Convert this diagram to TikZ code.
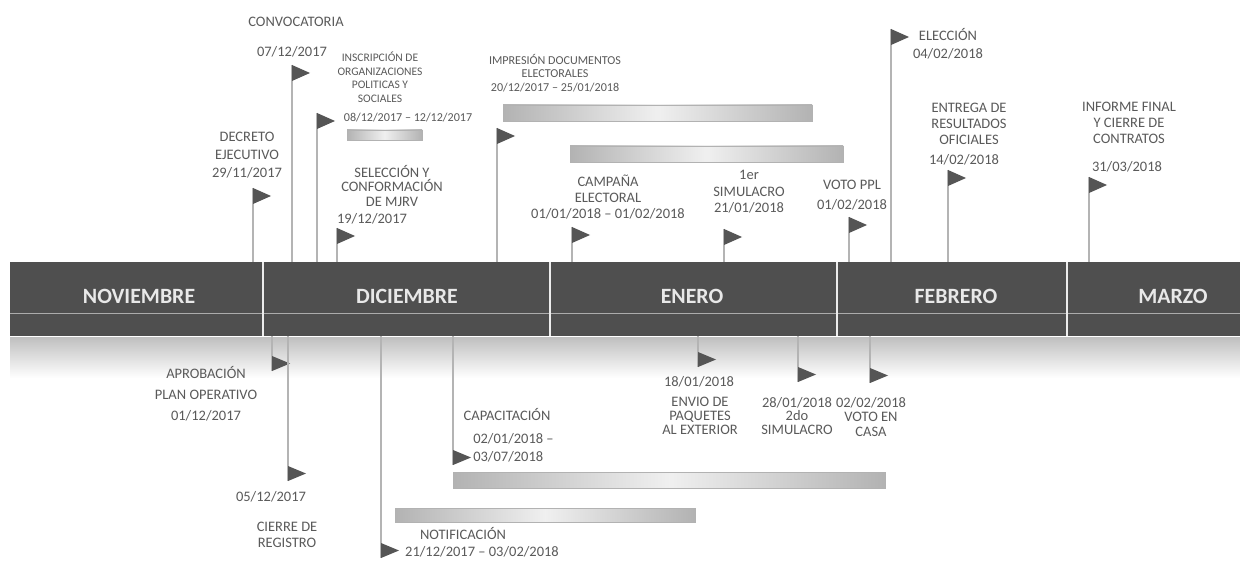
\documentclass[tikz,border=0pt]{standalone}
\usepackage{fontspec}
\setmainfont{Carlito}
\definecolor{txt}{HTML}{5A5A5A}
\definecolor{bandc}{HTML}{4F4F4F}
\definecolor{polec}{HTML}{B4B4B4}
\definecolor{flagc}{HTML}{555555}
\definecolor{monc}{HTML}{E8E8E8}
\tikzset{
  lbl/.style={text=txt, font=\fontsize{10.3}{12.8}\selectfont, align=center, inner sep=0pt},
  sml/.style={text=txt, font=\fontsize{8.2}{9.6}\selectfont, align=center, inner sep=0pt},
  mon/.style={text=monc, font=\fontsize{15.5}{17}\selectfont\bfseries, inner sep=0pt},
  pole/.style={draw=polec, line width=2pt},
  flagfill/.style={fill=flagc},
  bar/.style={draw=gray!60, line width=0.6pt, left color=gray!60, right color=gray!60, middle color=gray!12},
  sep/.style={draw=white!85!gray, line width=1pt}
}
\newcommand\flagup[3]{%
  \coordinate (#1top) at (#2,#3);
  \coordinate (#1base) at (#2,262);
  \draw[pole] (#1top) -- (#1base);
  \fill[flagfill] (#1top) -- ++(18,8) -- ++(-18,8) -- cycle;}
\newcommand\flagdn[3]{%
  \coordinate (#1base) at (#2,336);
  \coordinate (#1top) at (#2,#3);
  \coordinate (#1end) at (#2,#3+15);
  \draw[pole] (#1base) -- (#1end);
  \fill[flagfill] (#1top) -- ++(18,7.5) -- ++(-18,7.5) -- cycle;}
\begin{document}
\begin{tikzpicture}[x=0.025cm,y=-0.025cm]
\useasboundingbox (0,0) rectangle (1240,563);
\fill[white] (0,0) rectangle (1240,563);

% reflection strip below band
\shade[top color=gray!50, bottom color=white] (10,337) rectangle (1240,378);

% main band
\fill[bandc] (10,262) rectangle (1240,336);
\draw[gray!65, line width=0.6pt] (10,313) -- (1240,313);
\coordinate (s1t) at (263,262); \coordinate (s1b) at (263,336);
\coordinate (s2t) at (550,262); \coordinate (s2b) at (550,336);
\coordinate (s3t) at (837,262); \coordinate (s3b) at (837,336);
\coordinate (s4t) at (1067,262); \coordinate (s4b) at (1067,336);
\draw[sep] (s1t) -- (s1b);
\draw[sep] (s2t) -- (s2b);
\draw[sep] (s3t) -- (s3b);
\draw[sep] (s4t) -- (s4b);

\node[mon] (nov) at (139,296) {NOVIEMBRE};
\node[mon] (dic) at (407,296) {DICIEMBRE};
\node[mon] (ene) at (692,296) {ENERO};
\node[mon] (feb) at (956,296) {FEBRERO};
\node[mon] (mar) at (1173,296) {MARZO};

% bars
\draw[bar] (347,130) rectangle (422,140);
\draw[bar] (503,105) rectangle (812,121);
\draw[bar] (570,146) rectangle (843,162);
\draw[bar] (453,472) rectangle (885,488);
\draw[bar] (395,508) rectangle (695,522);

% flags above
\flagup{dec}{253}{188}
\flagup{conv}{292}{65}
\flagup{insc}{317}{113}
\flagup{sel}{337}{228}
\flagup{imp}{497}{128}
\flagup{camp}{572}{227}
\flagup{sim}{724}{229}
\flagup{ppl}{849}{217}
\flagup{elec}{891}{29}
\flagup{ent}{948}{170}
\flagup{inf}{1089}{177}

% flags below
\flagdn{apr}{272}{356}
\flagdn{cie}{288}{466}
\flagdn{not}{381}{543}
\flagdn{cap}{453}{450}
\flagdn{env}{698}{352}
\flagdn{sim2}{798}{367}
\flagdn{casa}{870}{368}

% texts above
\node[lbl] (tdec) at (247,155) {DECRETO\\EJECUTIVO\\29/11/2017};
\node[lbl] (tconv) at (296,22) {CONVOCATORIA};
\node[lbl] (tconvd) at (292,52) {07/12/2017};
\node[sml] (tinsc) at (380,77) {INSCRIPCIÓN DE\\ORGANIZACIONES\\POLITICAS Y\\SOCIALES};
\node[sml, font=\fontsize{8.6}{10}\selectfont] (tinscd) at (408,118) {08/12/2017 – 12/12/2017};
\node[lbl, font=\fontsize{10.3}{10.6}\selectfont] (tsel) at (392,186) {SELECCIÓN Y\\CONFORMACIÓN\\DE MJRV};
\node[lbl] (tseld) at (372,219) {19/12/2017};
\node[sml, font=\fontsize{8.6}{9.6}\selectfont] (timp) at (555,73) {IMPRESIÓN DOCUMENTOS\\ELECTORALES\\20/12/2017 – 25/01/2018};
\node[lbl, font=\fontsize{10.3}{11.7}\selectfont] (tcamp) at (608,197) {CAMPAÑA\\ELECTORAL\\01/01/2018 – 01/02/2018};
\node[lbl, font=\fontsize{10.3}{11.7}\selectfont] (tsim) at (749,192) {1er\\SIMULACRO\\21/01/2018};
\node[lbl, font=\fontsize{10.3}{14}\selectfont] (tppl) at (852,195) {VOTO PPL\\01/02/2018};
\node[lbl] (telec) at (948,44) {ELECCIÓN\\04/02/2018};
\node[lbl, font=\fontsize{10.3}{11.4}\selectfont] (tent) at (969,124) {ENTREGA DE\\RESULTADOS\\OFICIALES};
\node[lbl] (tentd) at (964,160) {14/02/2018};
\node[lbl, font=\fontsize{10.3}{11.4}\selectfont] (tinf) at (1129,123) {INFORME FINAL\\Y CIERRE DE\\CONTRATOS};
\node[lbl] (tinfd) at (1127,167) {31/03/2018};

% texts below
\node[lbl, font=\fontsize{10.3}{15}\selectfont] (tapr) at (206,394) {APROBACIÓN\\PLAN OPERATIVO\\01/12/2017};
\node[lbl] (tcied) at (271,497) {05/12/2017};
\node[lbl, font=\fontsize{10.3}{11.4}\selectfont] (tcie) at (287,535) {CIERRE DE\\REGISTRO};
\node[lbl] (tnot) at (463,533) {NOTIFICACIÓN};
\node[lbl] (tnotd) at (482,552) {21/12/2017 – 03/02/2018};
\node[lbl] (tcap) at (507,415) {CAPACITACIÓN};
\node[lbl, align=left, anchor=west] (tcapd) at (473,448) {02/01/2018 –\\03/07/2018};
\node[lbl] (tenvd) at (699,382) {18/01/2018};
\node[lbl, font=\fontsize{10.3}{10.2}\selectfont] (tenv) at (700,416) {ENVIO DE\\PAQUETES\\AL EXTERIOR};
\node[lbl, font=\fontsize{10.3}{9.8}\selectfont] (tsim2) at (797,416) {28/01/2018\\2do\\SIMULACRO};
\node[lbl, font=\fontsize{10.3}{10.5}\selectfont] (tcasa) at (871,417) {02/02/2018\\VOTO EN\\CASA};
\end{tikzpicture}
\end{document}
